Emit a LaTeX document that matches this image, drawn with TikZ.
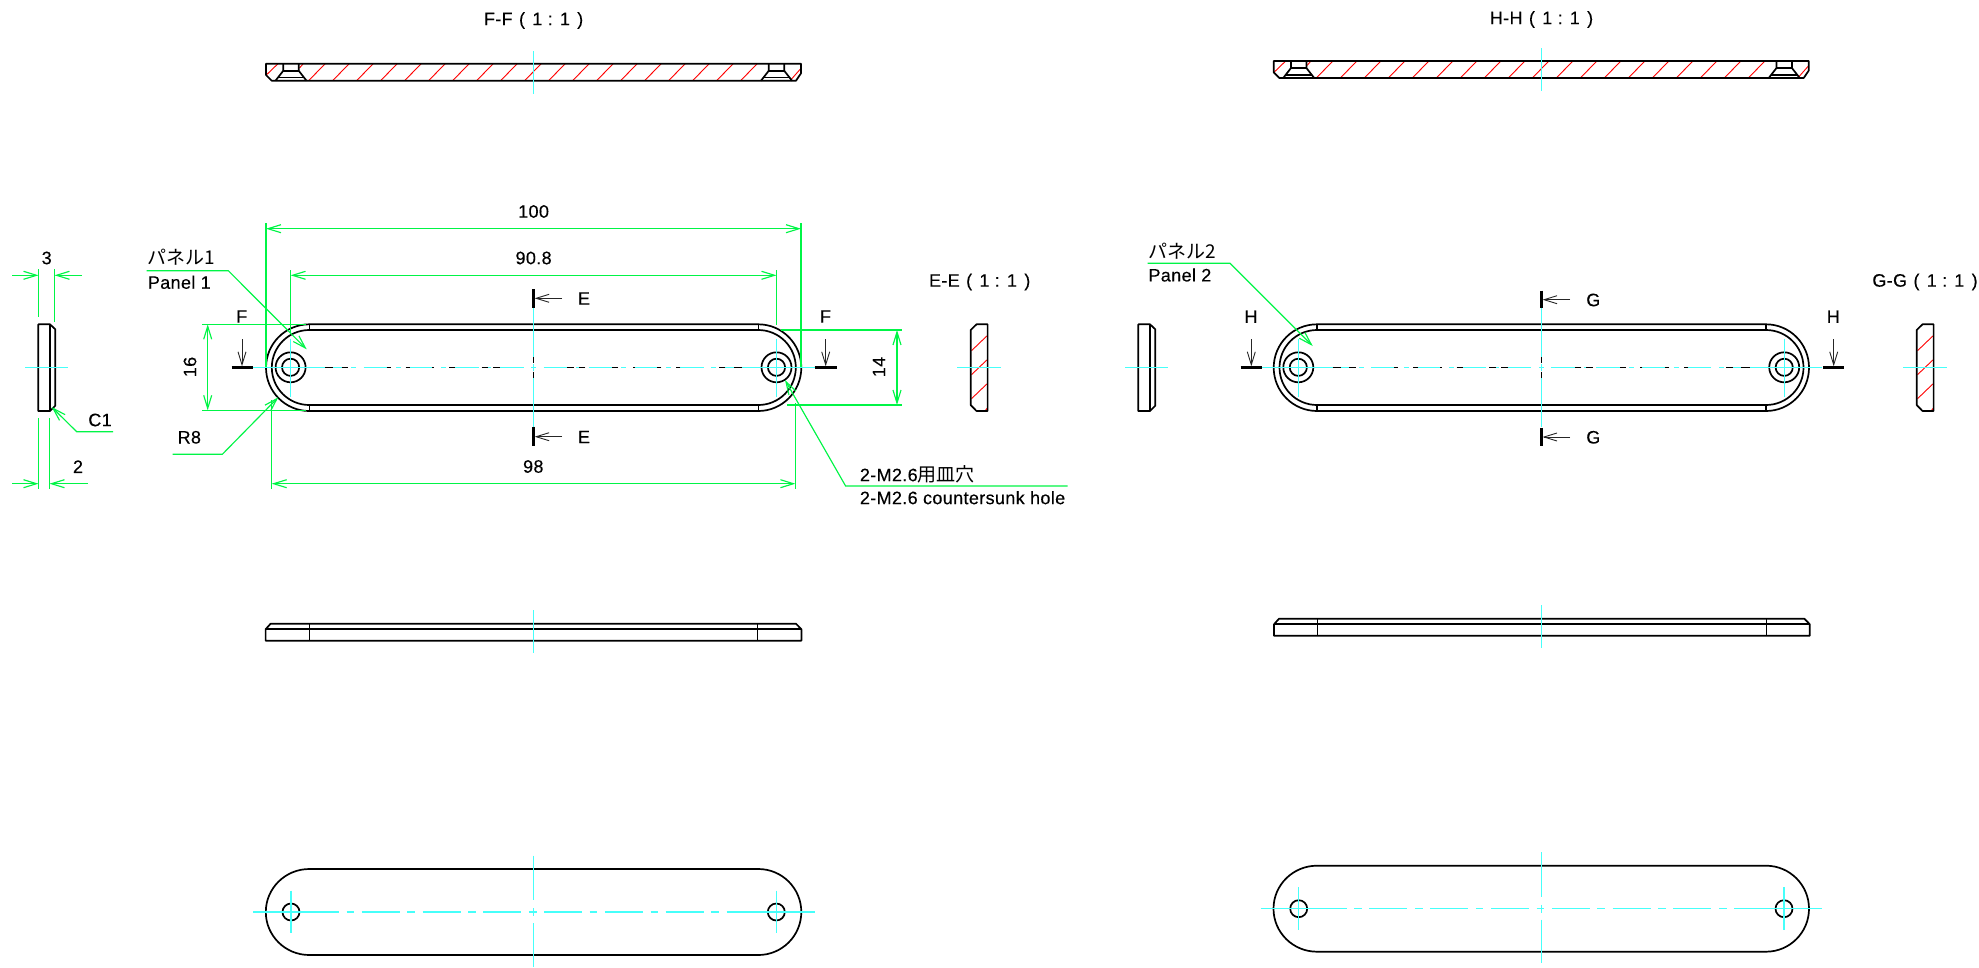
\documentclass[tikz,border=0pt]{standalone}
\usepackage{fontspec}
\setmainfont{Liberation Sans}[LetterSpace=2,FakeBold=0.25]
\newfontfamily\jp{Noto Sans CJK JP}
\usetikzlibrary{arrows.meta}
\definecolor{dimgreen}{RGB}{0,245,70}
\definecolor{cline}{RGB}{70,255,250}
\definecolor{hatchred}{RGB}{255,0,0}
\tikzset{
  lbl/.style={inner sep=0pt,font=\fontsize{18}{20}\selectfont,text=black},
  lbljp/.style={inner sep=0pt,font=\fontsize{19}{20}\jp\selectfont,text=black},
  outline/.style={draw=black,line width=1.7pt,line join=round},
  thinout/.style={draw=black,line width=1.2pt},
  dimline/.style={draw=dimgreen,line width=1.15pt,>={Straight Barb[length=13pt,width=8pt]}},
  axis/.style={draw=cline,line width=1.15pt},
  hatch/.style={draw=hatchred,line width=.9pt},
  secmark/.style={draw=black,line width=2.6pt},
  secarrow/.style={draw=black!85,line width=.9pt,>={Straight Barb[length=13pt,width=8pt]}},
  chain/.style={draw=black,line width=1.1pt}
}
% section view along the length
\newcommand{\longsection}{%
  \foreach \k in {0,...,18}{\draw[hatch] ({309+24*\k},80.2) -- ({325+24*\k},64);}
  \draw[hatch] (266.3,75) -- (277.7,64);
  \draw[hatch] (299.5,68) -- (303,64);
  \draw[hatch] (790.7,80) -- (801,68.3);
  \draw[outline] (266,63.7) -- (801,63.7) -- (801,73.3) -- (796,80.7) -- (271.7,80.7) -- (266,75) -- cycle;
  \foreach \c in {291,776.5}{
    \draw[outline] (\c-7.7,63.7) -- (\c-7.7,70.7) -- (\c-15.5,80.7);
    \draw[outline] (\c+7.7,63.7) -- (\c+7.7,70.7) -- (\c+15.5,80.7);
    \draw[outline] (\c-7.7,70.7) -- (\c+7.7,70.7);
    \draw[outline] (\c-12.8,77.5) -- (\c+12.8,77.5);
  }
  \draw[axis] (533.6,51) -- (533.6,94);
}
% plan view with the chamfer
\newcommand{\planview}{%
  \draw[outline] (309.3,324.3) -- (758.3,324.3) arc[start angle=-90,end angle=90,x radius=43,y radius=43.35]
     -- (309.3,411) arc[start angle=90,end angle=270,x radius=43.3,y radius=43.35] -- cycle;
  \draw[outline] (309.3,330) -- (758.3,330) arc[start angle=-90,end angle=90,x radius=37.5,y radius=37.5]
     -- (309.3,405) arc[start angle=90,end angle=270,x radius=37.5,y radius=37.5] -- cycle;
  \draw[thinout] (309.3,324.3) -- (309.3,330) (309.3,405) -- (309.3,411)
                 (758.3,324.3) -- (758.3,330) (758.3,405) -- (758.3,411);
  \foreach \c in {290.6,776.5}{
    \draw[outline] (\c,367.3) circle[radius=15];
    \draw[outline] (\c,367.3) circle[radius=8.6];
    \draw[axis] (\c,338.5) -- (\c,396.5);
  }
  \draw[axis] (252.7,367.3) -- (325,367.3) (742,367.3) -- (814.6,367.3);
  \draw[axis,dash pattern=on 25pt off 7.5pt on 5pt off 7.5pt] (318.6,367.3) -- (748.6,367.3);
  \draw[chain,dash pattern=on 8.3pt off 8.4pt on 6.6pt off 38.4pt on 4pt off 15pt on 4.3pt off 22.3pt on 2pt off 14.7pt on 6pt off 26.7pt on 6.6pt off 5pt on 6.7pt off 50pt]
     (325,367.3) -- (533.6,367.3);
  \draw[chain,dash pattern=on 8.3pt off 8.4pt on 6.6pt off 38.4pt on 4pt off 15pt on 4.3pt off 22.3pt on 2pt off 14.7pt on 6pt off 26.7pt on 6.6pt off 5pt on 6.7pt off 50pt]
     (742,367.3) -- (533.6,367.3);
  \draw[axis] (533.6,308) -- (533.6,357) (533.6,364) -- (533.6,371) (533.6,378) -- (533.6,427);
  \draw[chain] (533.6,357) -- (533.6,363) (533.6,371.5) -- (533.6,378);
}
% edge view
\newcommand{\edgeview}{%
  \draw[outline] (38.3,324.3) -- (50,324.3) -- (55.3,329.3) -- (55.3,405.7) -- (50,411) -- (38.3,411) -- cycle;
  \draw[thinout] (50,324.3) -- (50,411);
  \draw[axis] (25,367.3) -- (68,367.3);
}
% short cross-section
\newcommand{\crosssection}{%
  \foreach \y in {0,24,48}{\draw[hatch] (971.5,350.7+\y) -- (986.8,336+\y);}
  \draw[hatch] (985,411) -- (987.4,408);
  \draw[outline] (976.5,324.3) -- (987.6,324.3) -- (987.6,411) -- (976.5,411) -- (970.7,405) -- (970.7,330) -- cycle;
  \draw[axis] (957,367.3) -- (1000.6,367.3);
}
% side elevation
\newcommand{\sideview}{%
  \draw[outline] (265.6,629.3) -- (270.6,623.7) -- (796,623.7) -- (801.4,629.3) -- (801.4,640.7) -- (265.6,640.7) -- cycle;
  \draw[outline] (265.6,629.3) -- (801.4,629.3);
  \draw[thinout] (309.3,623.7) -- (309.3,640.7) (757.8,623.7) -- (757.8,640.7);
  \draw[axis] (533.5,610) -- (533.5,653.3);
}
% back view
\newcommand{\backview}{%
  \draw[outline] (309.3,869) -- (758.3,869) arc[start angle=-90,end angle=90,x radius=43,y radius=43]
     -- (309.3,955) arc[start angle=90,end angle=270,x radius=43.5,y radius=43] -- cycle;
  \foreach \c in {291,776.3}{
    \draw[outline] (\c,912) circle[radius=8.5];
    \draw[axis] (\c,890.7) -- (\c,933.3);
  }
  \draw[axis] (253,912) -- (311,912) (756,912) -- (814.5,912);
  \draw[axis,dash pattern=on 38pt off 7.6pt on 7.6pt off 7.6pt] (300.9,912) -- (766.1,912);
  \draw[axis] (533.5,855.7) -- (533.5,900) (533.5,908) -- (533.5,916) (533.5,923) -- (533.5,966.7);
}
\begin{document}
\begin{tikzpicture}[x=1pt,y=1pt,yscale=-1]
\useasboundingbox (0,0) rectangle (1979,967);
\fill[white] (0,0) rectangle (1979,967);

% ---------- views, panel 1 ----------
\longsection
\planview
\edgeview
\crosssection
\sideview
\backview
% ---------- views, panel 2 ----------
\begin{scope}[shift={(1007.7,-2.7)}]\longsection\end{scope}
\begin{scope}[shift={(1007.7,0)}]\planview\end{scope}
\begin{scope}[shift={(1100,0)}]\edgeview\end{scope}
\begin{scope}[shift={(946,0)}]\crosssection\end{scope}
\begin{scope}[shift={(1008.4,-5)}]\sideview\end{scope}
\begin{scope}[shift={(1007.7,-3.3)}]\backview\end{scope}

% ---------- titles ----------
\node[lbl] (tFF) at (533.6,20.5) {F-F\hspace{1pt} (\hspace{2pt} 1 : 1\hspace{2pt} )};
\node[lbl] (tHH) at (1541.5,19.5) {H-H\hspace{1pt} (\hspace{2pt} 1 : 1\hspace{2pt} )};
\node[lbl] (tEE) at (979.7,282) {E-E\hspace{1pt} (\hspace{2pt} 1 : 1\hspace{2pt} )};
\node[lbl] (tGG) at (1925,282) {G-G\hspace{1pt} (\hspace{2pt} 1 : 1\hspace{2pt} )};

% ---------- section marks ----------
\draw[secmark] (533.6,289.3) -- (533.6,308) (533.6,426.7) -- (533.6,446);
\draw[secmark] (231.7,367.3) -- (252.7,367.3) (814.6,367.3) -- (836.8,367.3);
\draw[secmark] (1541.5,290.7) -- (1541.5,308) (1541.5,428) -- (1541.5,446);
\draw[secmark] (1240.7,367.3) -- (1261.7,367.3) (1823.3,367.3) -- (1844.3,367.3);
\draw[secarrow,->] (562,298.3) -- (534.6,298.3);
\draw[secarrow,->] (562,436.7) -- (534.6,436.7);
\draw[secarrow,->] (242,339) -- (242,366.3);
\draw[secarrow,->] (825.7,339) -- (825.7,366.3);
\draw[secarrow,->] (1570,299.7) -- (1542.5,299.7);
\draw[secarrow,->] (1570,437) -- (1542.5,437);
\draw[secarrow,->] (1251.3,339) -- (1251.3,366.3);
\draw[secarrow,->] (1833.7,339) -- (1833.7,366.3);
\node[lbl] (mE1) at (584,298.5) {E};
\node[lbl] (mE2) at (584,437) {E};
\node[lbl] (mF1) at (241.7,316.5) {F};
\node[lbl] (mF2) at (825.5,316.5) {F};
\node[lbl] (mG1) at (1593.3,300) {G};
\node[lbl] (mG2) at (1593.3,437.3) {G};
\node[lbl] (mH1) at (1251,316.7) {H};
\node[lbl] (mH2) at (1833.3,316.7) {H};

% ---------- dimensions ----------
\draw[dimline] (266,223) -- (266,367) (801,223) -- (801,367);
\draw[dimline,<->] (266,228.7) -- (801,228.7);
\node[lbl] (d100) at (533.6,211.5) {100};
\draw[dimline] (290.6,270) -- (290.6,333) (776.5,270) -- (776.5,325);
\draw[dimline,<->] (290.6,275.3) -- (776.5,275.3);
\node[lbl] (d908) at (533.6,258) {90.8};
\draw[dimline] (271.7,400) -- (271.7,489) (795.4,403) -- (795.4,489);
\draw[dimline,<->] (271.7,483.7) -- (795.4,483.7);
\node[lbl] (d98) at (533.3,466.5) {98};
\draw[dimline] (202,324.3) -- (306,324.3) (202,410.3) -- (306,410.3);
\draw[dimline,<->] (207.7,324.3) -- (207.7,410.3);
\node[lbl,rotate=90] (d16) at (190,367) {16};
\draw[dimline] (781,330) -- (902,330) (787,405) -- (902,405);
\draw[dimline,<->] (897,330) -- (897,405);
\node[lbl,rotate=90] (d14) at (879,367) {14};
\draw[dimline] (38.5,269) -- (38.5,316.7) (54.5,269) -- (54.5,322);
\draw[dimline,->] (12,275.3) -- (38.5,275.3);
\draw[dimline,->] (82,275.3) -- (54.5,275.3);
\node[lbl] (d3) at (46.7,258) {3};
\draw[dimline] (38.5,418) -- (38.5,489) (49.5,418) -- (49.5,489);
\draw[dimline,->] (12,483.7) -- (38.5,483.7);
\draw[dimline,->] (88,483.7) -- (49.5,483.7);
\node[lbl] (d2) at (78,466.7) {2};

% ---------- leaders ----------
\coordinate (c1t) at (51.7,407);
\coordinate (c1k) at (76.7,431.7);
\coordinate (c1e) at (113,431.7);
\draw[dimline,->] (c1e) -- (c1k) -- (c1t);
\node[lbl] (lC1) at (100,420) {C1};

\coordinate (r8t) at (278.3,397.3);
\coordinate (r8k) at (222.3,454.3);
\coordinate (r8e) at (172.7,454.3);
\draw[dimline,->] (r8e) -- (r8k) -- (r8t);
\node[lbl] (lR8) at (189.3,437.3) {R8};

\coordinate (p1t) at (306.7,349.3);
\coordinate (p1k) at (228.3,270.7);
\coordinate (p1e) at (146.7,270.7);
\draw[dimline,->] (p1e) -- (p1k) -- (p1t);
\node[lbljp,anchor=west] (lP1a) at (147.7,257) {パネル1};
\node[lbl,anchor=west] (lP1b) at (147.7,282.3) {Panel 1};

\coordinate (p2t) at (1312.7,346);
\coordinate (p2k) at (1230,263.3);
\coordinate (p2e) at (1147.7,263.3);
\draw[dimline,->] (p2e) -- (p2k) -- (p2t);
\node[lbljp,anchor=west] (lP2a) at (1148.3,251) {パネル2};
\node[lbl,anchor=west] (lP2b) at (1148.3,275) {Panel 2};

\coordinate (mt) at (785,380);
\coordinate (mk) at (845.6,486);
\coordinate (me) at (1067.5,486);
\draw[dimline,->] (me) -- (mk) -- (mt);
\node[lbl,anchor=west] (lMa) at (859.7,474) {2-M2.6{\jp\fontsize{19}{20}\selectfont 用皿穴}};
\node[lbl,anchor=west] (lMb) at (859.7,497.7) {2-M2.6 countersunk hole};
\end{tikzpicture}
\end{document}
